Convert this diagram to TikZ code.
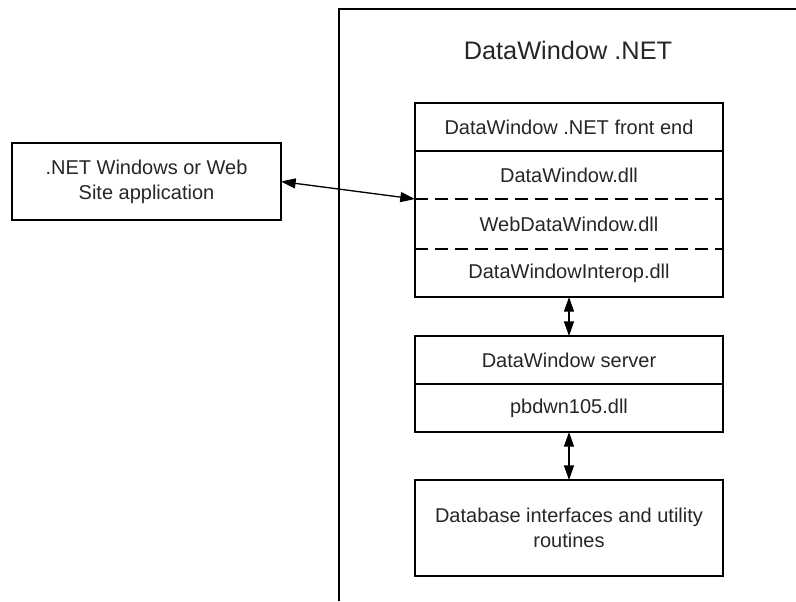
\documentclass[tikz,border=0pt]{standalone}
\usepackage{fontspec}
\setmainfont{Liberation Sans}
\usetikzlibrary{positioning,arrows.meta}

\begin{document}
\begin{tikzpicture}[x=0.75pt,y=-0.75pt,
  every node/.style={inner sep=0pt,outer sep=0pt,text=black!85,font=\fontsize{15}{18.75}\selectfont},
  row/.style={minimum width=231pt,minimum height=36pt},
  box/.style={draw,line width=1pt,align=center},
  tip/.tip={Triangle[length=11pt,width=7.5pt]},
  link/.style={line width=1pt,tip-tip}]

\useasboundingbox (0,0) rectangle (796,601);

\draw[line width=1pt] (339,601) -- (339,9) -- (796,9);
\node[font=\fontsize{19}{23}\selectfont] (title) at (568,50) {DataWindow .NET};

\node[box,minimum width=201.75pt,minimum height=57.75pt] (app) at (146.5,181.5) {.NET Windows or Web\\Site application};

\node[row] (front) at (569,127) {DataWindow .NET front end};
\node[row,below=0pt of front] (dwdll) {DataWindow.dll};
\node[row,minimum height=37.5pt,below=0pt of dwdll] (webdll) {WebDataWindow.dll};
\node[row,below=0pt of webdll] (interop) {DataWindowInterop.dll};
\draw[line width=1pt] (front.north west) rectangle (interop.south east);
\draw[line width=1pt] (front.south west) -- (front.south east);
\draw[line width=1pt,dash pattern=on 10pt off 5pt] (dwdll.south west) -- (dwdll.south east);
\draw[line width=1pt,dash pattern=on 10pt off 5pt] (webdll.south west) -- (webdll.south east);

\node[row,box] (srv) at (569,360) {DataWindow server};
\node[row,box,below=0pt of srv] (pbdwn) {pbdwn105.dll};

\node[row,box,minimum height=72pt] (db) at (569,528) {Database interfaces and utility\\routines};

\draw[link] (interop.south) -- (srv.north);
\draw[link] (pbdwn.south) -- (db.north);
\draw[link] (app.east) -- (dwdll.south west);

\end{tikzpicture}
\end{document}
